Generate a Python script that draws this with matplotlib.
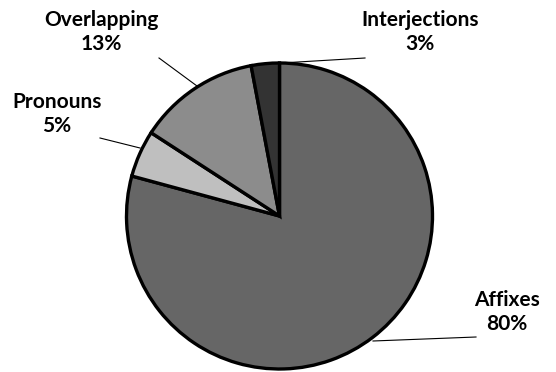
import matplotlib
matplotlib.use("Agg")
import matplotlib.pyplot as plt
import numpy as np

categories = ["Affixes", "Pronouns", "Overlapping", "Interjections"]
values = [80, 5, 13, 3]
colors = ["#666666", "#bfbfbf", "#8c8c8c", "#333333"]

W, H = 556, 372
fig = plt.figure(figsize=(W / 100, H / 100), dpi=100)
ax = fig.add_axes([0, 0, 1, 1])

cx, cy, r = 279.5, H - 216, 153
ax.pie(values, colors=colors, startangle=90, counterclock=False,
       center=(cx, cy), radius=r, frame=True,
       wedgeprops=dict(edgecolor="black", linewidth=2.4))
ax.set_xlim(0, W)
ax.set_ylim(0, H)
ax.set_aspect("equal")
ax.axis("off")

# label positions (pixel coords, top-left origin) and leader lines
label_pos = {
    "Affixes": (507, 312),
    "Pronouns": (57, 114),
    "Overlapping": (101, 32),
    "Interjections": (420, 32),
}
leaders = {
    "Affixes": [(373, 341), (476, 337)],
    "Pronouns": [(140, 148), (100, 138)],
    "Overlapping": [(197, 86), (159, 58)],
    "Interjections": [(281, 63), (365, 58)],
}
for cat, val in zip(categories, values):
    x, y = label_pos[cat]
    ax.text(x, H - y, f"{cat}\n{val}%", ha="center", va="center",
            fontsize=15, fontweight="bold", family=["Lato", "DejaVu Sans"],
            linespacing=1.25, color="black")
    (x0, y0), (x1, y1) = leaders[cat]
    ax.plot([x0, x1], [H - y0, H - y1], color="black", linewidth=0.8)

fig.savefig("out.png", dpi=100)
